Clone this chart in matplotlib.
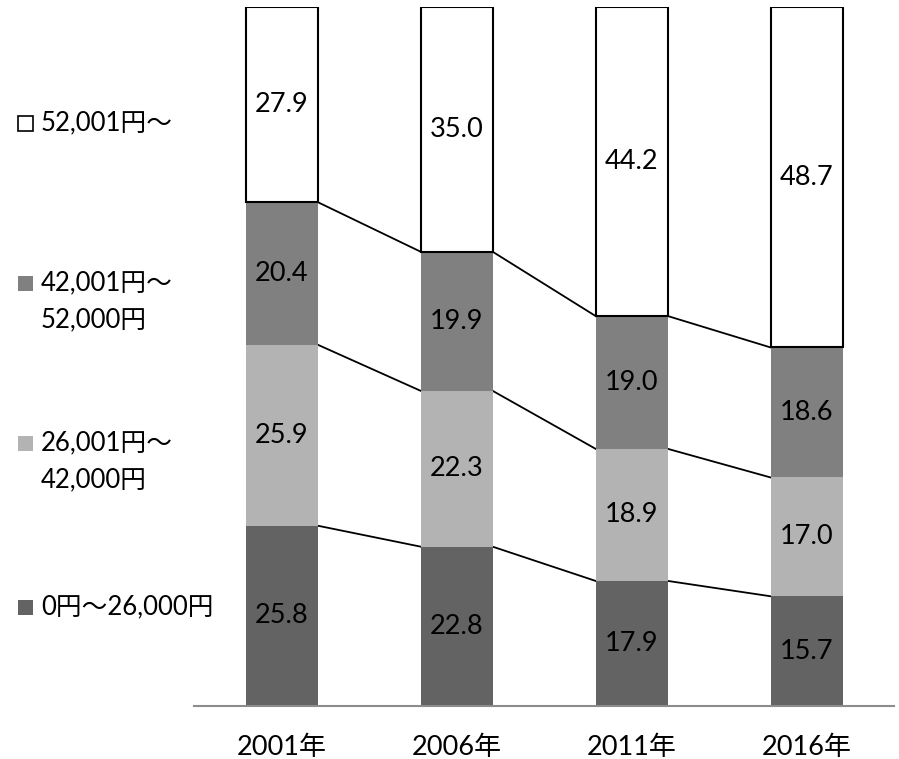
import matplotlib.pyplot as plt
from matplotlib.patches import Rectangle
import numpy as np

plt.rcParams['font.family'] = ['Lato', 'Noto Sans CJK JP', 'DejaVu Sans']

years = ['2001年', '2006年', '2011年', '2016年']
band_labels = ['0円〜26,000円', '26,001円〜\n42,000円', '42,001円〜\n52,000円', '52,001円〜']
low = [25.8, 22.8, 17.9, 15.7]
mid_low = [25.9, 22.3, 18.9, 17.0]
mid_high = [20.4, 19.9, 19.0, 18.6]
high = [27.9, 35.0, 44.2, 48.7]

series = [low, mid_low, mid_high, high]
colors = ['#636363', '#b3b3b3', '#808080', '#ffffff']

fig = plt.figure(figsize=(8.99, 7.59), dpi=100)
ax = fig.add_axes([194 / 899, 53 / 759, 700 / 899, 699 / 759])

x = np.arange(len(years))
w = 72 / 175
bottom = np.zeros(len(years))
tops = []
for vals, c in zip(series, colors):
    vals = np.array(vals)
    if c == '#ffffff':
        ax.bar(x, vals, w, bottom=bottom, color=c, edgecolor='black', linewidth=1.5, zorder=2)
    else:
        ax.bar(x, vals, w, bottom=bottom, color=c, linewidth=0, zorder=2)
    for xi, b, v in zip(x, bottom, vals):
        ax.text(xi, b + v / 2, f'{v:.1f}', ha='center', va='center', fontsize=19.5, color='black', zorder=3)
    bottom = bottom + vals
    tops.append(bottom.copy())

# connector lines between neighbouring bars at each band boundary
for cum in tops[:3]:
    for i in range(len(x) - 1):
        ax.plot([x[i] + w / 2, x[i + 1] - w / 2], [cum[i], cum[i + 1]],
                color='black', linewidth=1.3, zorder=1)

ax.set_xlim(-0.5, 3.5)
ax.set_ylim(0, 100)
ax.set_xticks(x)
ax.set_xticklabels(years, fontsize=19.5)
ax.tick_params(axis='x', length=0, pad=21)
ax.set_yticks([])
for s in ['top', 'left', 'right']:
    ax.spines[s].set_visible(False)
ax.spines['bottom'].set_color('#8c8c8c')
ax.spines['bottom'].set_linewidth(1.5)

# legend, top to bottom
legend_rows = [(123, band_labels[3], colors[3]),
               (283, band_labels[2], colors[2]),
               (443, band_labels[1], colors[1]),
               (607, band_labels[0], colors[0])]
for y, label, c in legend_rows:
    yf = 1 - y / 759
    sq = Rectangle((18 / 899, yf - 7.5 / 759), 15 / 899, 15 / 759,
                   transform=fig.transFigure, facecolor=c,
                   edgecolor='black' if c == '#ffffff' else 'none', linewidth=1.2)
    fig.patches.append(sq)
    lines = label.split('\n')
    for k, line in enumerate(lines):
        fig.text(41 / 899, 1 - (y + 37 * k) / 759, line, ha='left', va='center', fontsize=18.5)

fig.savefig('out.png', dpi=100)
